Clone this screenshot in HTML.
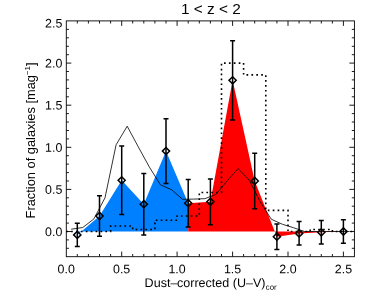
<!DOCTYPE html>
<html><head><meta charset="utf-8"><title>1 &lt; z &lt; 2</title>
<style>html,body{margin:0;padding:0;background:#fff;}svg{display:block;}text{font-family:"Liberation Sans",sans-serif;fill:#000;}</style></head><body>
<svg width="374" height="299" viewBox="0 0 374 299">
<rect x="0" y="0" width="374" height="299" fill="#fff"/>
<polygon points="77.3,234.9 99.5,216.0 121.7,180.3 143.8,204.2 166.0,151.1 188.2,203.2 188.2,231.5 77.3,231.5" fill="#0080ff"/>
<polygon points="188.2,203.2 210.4,201.8 232.6,80.3 254.7,181.0 276.9,236.7 299.1,233.4 321.3,232.3 343.4,231.5 343.4,231.5 188.2,231.5" fill="#ff0000"/>
<rect x="66.3" y="20.9" width="288.1" height="235.8" fill="none" stroke="#000" stroke-width="0.9"/>
<path d="M77.3 20.9v2.6M77.3 256.6v-2.6M88.4 20.9v2.6M88.4 256.6v-2.6M99.5 20.9v2.6M99.5 256.6v-2.6M110.6 20.9v2.6M110.6 256.6v-2.6M121.7 20.9v5.0M121.7 256.6v-5.0M132.7 20.9v2.6M132.7 256.6v-2.6M143.8 20.9v2.6M143.8 256.6v-2.6M154.9 20.9v2.6M154.9 256.6v-2.6M166.0 20.9v2.6M166.0 256.6v-2.6M177.1 20.9v5.0M177.1 256.6v-5.0M188.2 20.9v2.6M188.2 256.6v-2.6M199.3 20.9v2.6M199.3 256.6v-2.6M210.4 20.9v2.6M210.4 256.6v-2.6M221.5 20.9v2.6M221.5 256.6v-2.6M232.6 20.9v5.0M232.6 256.6v-5.0M243.6 20.9v2.6M243.6 256.6v-2.6M254.7 20.9v2.6M254.7 256.6v-2.6M265.8 20.9v2.6M265.8 256.6v-2.6M276.9 20.9v2.6M276.9 256.6v-2.6M288.0 20.9v5.0M288.0 256.6v-5.0M299.1 20.9v2.6M299.1 256.6v-2.6M310.2 20.9v2.6M310.2 256.6v-2.6M321.3 20.9v2.6M321.3 256.6v-2.6M332.4 20.9v2.6M332.4 256.6v-2.6M343.4 20.9v5.0M343.4 256.6v-5.0M66.3 248.3h2.6M354.4 248.3h-2.6M66.3 239.9h2.6M354.4 239.9h-2.6M66.3 231.5h5.0M354.4 231.5h-5.0M66.3 223.1h2.6M354.4 223.1h-2.6M66.3 214.7h2.6M354.4 214.7h-2.6M66.3 206.2h2.6M354.4 206.2h-2.6M66.3 197.8h2.6M354.4 197.8h-2.6M66.3 189.4h5.0M354.4 189.4h-5.0M66.3 181.0h2.6M354.4 181.0h-2.6M66.3 172.6h2.6M354.4 172.6h-2.6M66.3 164.1h2.6M354.4 164.1h-2.6M66.3 155.7h2.6M354.4 155.7h-2.6M66.3 147.3h5.0M354.4 147.3h-5.0M66.3 138.9h2.6M354.4 138.9h-2.6M66.3 130.5h2.6M354.4 130.5h-2.6M66.3 122.0h2.6M354.4 122.0h-2.6M66.3 113.6h2.6M354.4 113.6h-2.6M66.3 105.2h5.0M354.4 105.2h-5.0M66.3 96.8h2.6M354.4 96.8h-2.6M66.3 88.4h2.6M354.4 88.4h-2.6M66.3 79.9h2.6M354.4 79.9h-2.6M66.3 71.5h2.6M354.4 71.5h-2.6M66.3 63.1h5.0M354.4 63.1h-5.0M66.3 54.7h2.6M354.4 54.7h-2.6M66.3 46.3h2.6M354.4 46.3h-2.6M66.3 37.8h2.6M354.4 37.8h-2.6M66.3 29.4h2.6M354.4 29.4h-2.6" stroke="#000" stroke-width="0.9" fill="none"/>
<path d="M66.2 231.5L110.6 231.5L110.6 226.0L132.7 226.0L132.7 229.5L154.9 229.5L154.9 220.3L177.1 220.3L177.1 216.0L199.3 216.0L199.3 192.5L221.5 192.5L221.5 63.1L243.6 63.1L243.6 74.9L265.8 74.9L265.8 210.4L288.0 210.4L288.0 231.5L310.2 231.5L310.2 229.5L332.4 229.5L332.4 231.5L354.5 231.5" stroke="#000" stroke-width="1.6" stroke-dasharray="1.7 3.2" fill="none"/>
<polyline points="71.2,229.2 82.8,227.5 93.9,218.9 105.0,197.8 116.1,144.8 127.2,126.2 138.3,146.9 149.4,167.1 160.5,184.9 171.6,189.7 182.6,199.3 193.7,199.1 204.8,198.7 215.9,194.5 227.0,181.0 238.1,168.6 249.2,180.1 260.3,202.0 271.4,219.3 282.5,224.3 293.5,227.7 304.6,231.5 349.0,231.5" stroke="#000" stroke-width="0.8" fill="none"/>
<path d="M77.3 223.3V246.4M74.8 223.3h5M74.8 246.4h5M99.5 195.8V236.2M97.0 195.8h5M97.0 236.2h5M121.7 146.0V214.6M119.2 146.0h5M119.2 214.6h5M143.8 173.6V234.9M141.3 173.6h5M141.3 234.9h5M166.0 118.7V183.5M163.5 118.7h5M163.5 183.5h5M188.2 179.5V227.0M185.7 179.5h5M185.7 227.0h5M210.4 178.9V224.7M207.9 178.9h5M207.9 224.7h5M232.6 40.7V119.9M230.1 40.7h5M230.1 119.9h5M254.7 153.2V208.8M252.2 153.2h5M252.2 208.8h5M276.9 223.9V249.5M274.4 223.9h5M274.4 249.5h5M299.1 221.6V245.1M296.6 221.6h5M296.6 245.1h5M321.3 220.6V244.1M318.8 220.6h5M318.8 244.1h5M343.4 219.7V243.3M340.9 219.7h5M340.9 243.3h5" stroke="#000" stroke-width="1.5" fill="none"/>
<path d="M73.7 234.9L77.3 231.3L80.9 234.9L77.3 238.5ZM95.9 216.0L99.5 212.4L103.1 216.0L99.5 219.6ZM118.1 180.3L121.7 176.7L125.2 180.3L121.7 183.9ZM140.2 204.2L143.8 200.6L147.4 204.2L143.8 207.8ZM162.4 151.1L166.0 147.5L169.6 151.1L166.0 154.7ZM184.6 203.2L188.2 199.6L191.8 203.2L188.2 206.8ZM206.8 201.8L210.4 198.2L214.0 201.8L210.4 205.4ZM229.0 80.3L232.6 76.7L236.2 80.3L232.6 83.9ZM251.1 181.0L254.7 177.4L258.3 181.0L254.7 184.6ZM273.3 236.7L276.9 233.1L280.5 236.7L276.9 240.3ZM295.5 233.4L299.1 229.8L302.7 233.4L299.1 237.0ZM317.7 232.3L321.3 228.7L324.9 232.3L321.3 235.9ZM339.8 231.5L343.4 227.9L347.1 231.5L343.4 235.1Z" stroke="#000" stroke-width="1.5" fill="none"/>
<g opacity="0.999">
<text x="210.90" y="14.10" font-size="15.4" text-anchor="middle" transform="rotate(0.03 211 14)">1 &lt; z &lt; 2</text>
<text x="66.20" y="273.20" font-size="12.4" text-anchor="middle" transform="rotate(0.03 66 273)">0.0</text>
<text x="121.65" y="273.20" font-size="12.4" text-anchor="middle" transform="rotate(0.03 122 273)">0.5</text>
<text x="177.10" y="273.20" font-size="12.4" text-anchor="middle" transform="rotate(0.03 177 273)">1.0</text>
<text x="232.55" y="273.20" font-size="12.4" text-anchor="middle" transform="rotate(0.03 233 273)">1.5</text>
<text x="288.00" y="273.20" font-size="12.4" text-anchor="middle" transform="rotate(0.03 288 273)">2.0</text>
<text x="343.45" y="273.20" font-size="12.4" text-anchor="middle" transform="rotate(0.03 343 273)">2.5</text>
<text x="62.30" y="235.90" font-size="12.4" text-anchor="end" transform="rotate(0.03 62 236)">0.0</text>
<text x="62.30" y="193.80" font-size="12.4" text-anchor="end" transform="rotate(0.03 62 194)">0.5</text>
<text x="62.30" y="151.70" font-size="12.4" text-anchor="end" transform="rotate(0.03 62 152)">1.0</text>
<text x="62.30" y="109.60" font-size="12.4" text-anchor="end" transform="rotate(0.03 62 110)">1.5</text>
<text x="62.30" y="67.50" font-size="12.4" text-anchor="end" transform="rotate(0.03 62 68)">2.0</text>
<text x="62.30" y="27.60" font-size="12.4" text-anchor="end" transform="rotate(0.03 62 28)">2.5</text>
<text x="144.60" y="287.00" font-size="12.55" text-anchor="start" transform="rotate(0.03 145 287)">Dust&#8211;<tspan dx="-0.4">corrected (U&#8211;V)</tspan><tspan font-size="7.8" dy="2.6" dx="0.3">cor</tspan></text>
<text transform="translate(35,218.4) rotate(-90)" font-size="12.83">Fraction of galaxies [mag<tspan font-size="7.9" dy="-5.5">&#8722;1</tspan><tspan dy="5.5">]</tspan></text>
</g>
</svg></body></html>
